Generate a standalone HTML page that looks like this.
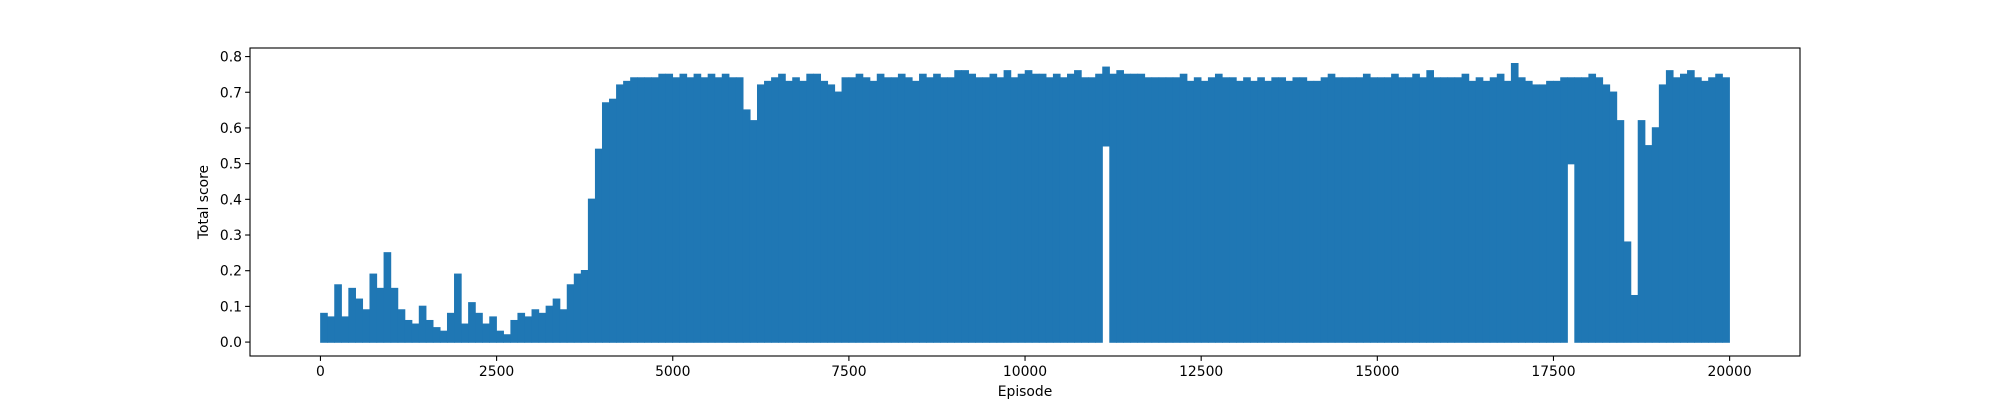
<!DOCTYPE html>
<html><head><meta charset="utf-8"><style>
html,body{margin:0;padding:0;background:#fff;}
svg{display:block;font-family:"DejaVu Sans","Liberation Sans",sans-serif;}
</style></head><body>
<svg id="chart" width="2000" height="400" viewBox="0 0 2000 400" xmlns="http://www.w3.org/2000/svg">
<rect width="2000" height="400" fill="#fff"/>
<g id="marks"></g>
<rect x="250" y="48" width="1550" height="308" fill="none" stroke="#000" stroke-width="1.1"/>
<g id="xticks"></g>
<g id="yticks"></g>
<text x="1025" y="396" font-size="13.9" text-anchor="middle">Episode</text>
<text transform="translate(208,202) rotate(-90)" font-size="13.9" text-anchor="middle">Total score</text>
</svg>
<script>
const binSize = 100;
const binHigh = [
0.08,0.07,0.16,0.07,0.15,0.12,0.09,0.19,0.15,0.25,
0.15,0.09,0.06,0.05,0.10,0.06,0.04,0.03,0.08,0.19,
0.05,0.11,0.08,0.05,0.07,0.03,0.02,0.06,0.08,0.07,
0.09,0.08,0.10,0.12,0.09,0.16,0.19,0.20,0.40,0.54,
0.67,0.68,0.72,0.73,0.74,0.74,0.74,0.74,0.75,0.75,
0.74,0.75,0.74,0.75,0.74,0.75,0.74,0.75,0.74,0.74,
0.65,0.62,0.72,0.73,0.74,0.75,0.73,0.74,0.73,0.75,
0.75,0.73,0.72,0.70,0.74,0.74,0.75,0.74,0.73,0.75,
0.74,0.74,0.75,0.74,0.73,0.75,0.74,0.75,0.74,0.74,
0.76,0.76,0.75,0.74,0.74,0.75,0.74,0.76,0.74,0.75,
0.76,0.75,0.75,0.74,0.75,0.74,0.75,0.76,0.74,0.74,
0.75,0.77,0.75,0.76,0.75,0.75,0.75,0.74,0.74,0.74,
0.74,0.74,0.75,0.73,0.74,0.73,0.74,0.75,0.74,0.74,
0.73,0.74,0.73,0.74,0.73,0.74,0.74,0.73,0.74,0.74,
0.73,0.73,0.74,0.75,0.74,0.74,0.74,0.74,0.75,0.74,
0.74,0.74,0.75,0.74,0.74,0.75,0.74,0.76,0.74,0.74,
0.74,0.74,0.75,0.73,0.74,0.73,0.74,0.75,0.73,0.78,
0.74,0.73,0.72,0.72,0.73,0.73,0.74,0.74,0.74,0.74,
0.75,0.74,0.72,0.70,0.62,0.28,0.13,0.62,0.55,0.60,
0.72,0.76,0.74,0.75,0.76,0.74,0.73,0.74,0.75,0.74
];
const binLowSparse = {111:0.55, 177:0.5};
const xTicks = [0,2500,5000,7500,10000,12500,15000,17500,20000];
const yTicks = [0.0,0.1,0.2,0.3,0.4,0.5,0.6,0.7,0.8];

const NS="http://www.w3.org/2000/svg";
const X0=250,X1=1800,Y0=48,Y1=356;
const xMin=-999.95,xMax=20998.95,yMin=-0.039,yMax=0.824;
function sx(v){return X0+(v-xMin)/(xMax-xMin)*(X1-X0);}
function sy(v){return Y1-(v-yMin)/(yMax-yMin)*(Y1-Y0);}

const marks=document.getElementById('marks');
binHigh.forEach((h,i)=>{
  const lo = binLowSparse[i]!==undefined ? binLowSparse[i] : 0;
  const x1=sx(i*binSize), x2=sx(Math.min((i+1)*binSize,20000));
  const r=document.createElementNS(NS,'rect');
  r.setAttribute('x',x1-0.3);
  r.setAttribute('width',x2-x1+0.6);
  r.setAttribute('y',sy(h)-0.7);
  r.setAttribute('height',sy(lo)-sy(h)+1.4);
  r.setAttribute('fill','#1f77b4');
  
  
  marks.appendChild(r);
});

const xg=document.getElementById('xticks');
xTicks.forEach(t=>{
  const x=sx(t);
  const l=document.createElementNS(NS,'line');
  l.setAttribute('x1',x);l.setAttribute('x2',x);l.setAttribute('y1',Y1);l.setAttribute('y2',Y1+4.9);
  l.setAttribute('stroke','#000');l.setAttribute('stroke-width','1.1');
  
  
  xg.appendChild(l);
  const tx=document.createElementNS(NS,'text');
  tx.setAttribute('x',x);tx.setAttribute('y',Y1+20);tx.setAttribute('font-size','13.9');tx.setAttribute('text-anchor','middle');
  tx.textContent=String(t);
  
  
  xg.appendChild(tx);
});
const yg=document.getElementById('yticks');
yTicks.forEach(t=>{
  const y=sy(t);
  const l=document.createElementNS(NS,'line');
  l.setAttribute('x1',X0-4.9);l.setAttribute('x2',X0);l.setAttribute('y1',y);l.setAttribute('y2',y);
  l.setAttribute('stroke','#000');l.setAttribute('stroke-width','1.1');
  
  
  yg.appendChild(l);
  const tx=document.createElementNS(NS,'text');
  tx.setAttribute('x',X0-8);tx.setAttribute('y',y+5);tx.setAttribute('font-size','13.9');tx.setAttribute('text-anchor','end');
  tx.textContent=t.toFixed(1);
  
  
  yg.appendChild(tx);
});
</script>
</body></html>
